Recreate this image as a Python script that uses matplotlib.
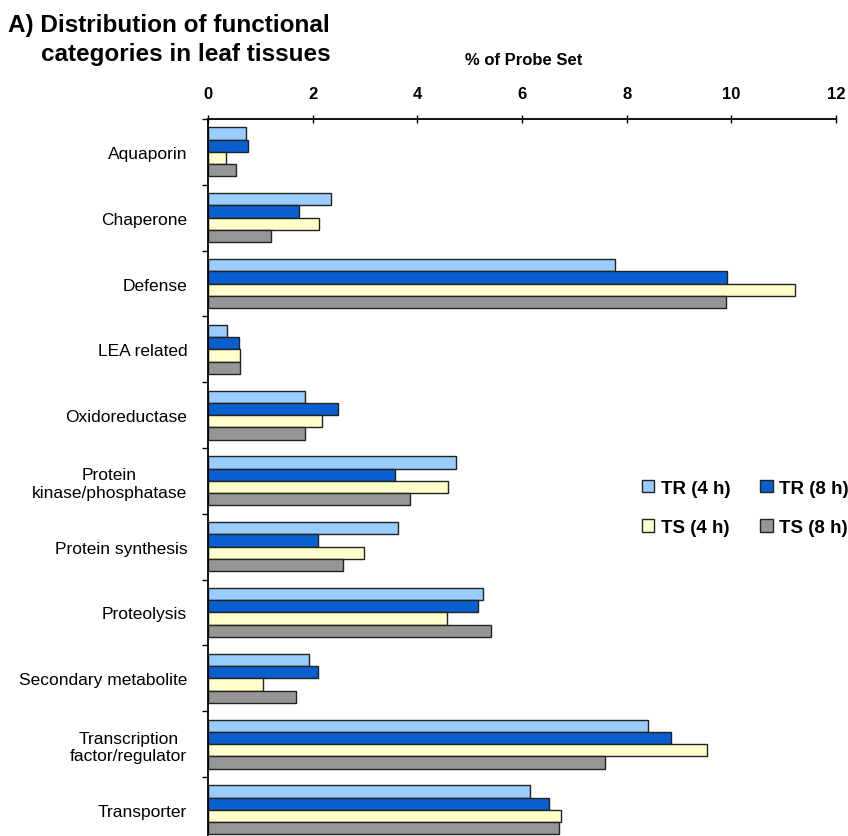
import numpy as np
import matplotlib
matplotlib.use('Agg')
import matplotlib.pyplot as plt
from matplotlib.patches import Patch

# categories, top to bottom
categories = ['Aquaporin', 'Chaperone', 'Defense', 'LEA related', 'Oxidoreductase',
              'Protein\nkinase/phosphatase', 'Protein synthesis', 'Proteolysis',
              'Secondary metabolite', 'Transcription\nfactor/regulator', 'Transporter']

# % of probe set per category
tr_4h = [0.73, 2.35, 7.78, 0.37, 1.85, 4.74, 3.63, 5.25, 1.93, 8.41, 6.16]
tr_8h = [0.77, 1.73, 9.92, 0.59, 2.49, 3.58, 2.10, 5.16, 2.10, 8.85, 6.52]
ts_4h = [0.34, 2.12, 11.22, 0.62, 2.18, 4.58, 2.98, 4.57, 1.06, 9.54, 6.74]
ts_8h = [0.54, 1.20, 9.90, 0.62, 1.85, 3.86, 2.57, 5.41, 1.68, 7.58, 6.71]

series = [('TR (4 h)', tr_4h, '#99ccff'),
          ('TR (8 h)', tr_8h, '#0a5fcf'),
          ('TS (4 h)', ts_4h, '#ffffcc'),
          ('TS (8 h)', ts_8h, '#969696')]

fontName = 'Liberation Sans'
edge = '#222222'
barH = 0.186

fig = plt.figure(figsize=(8.48, 8.37), dpi=100, facecolor='w')
ax = fig.add_axes([0.2453, -0.0081, 0.7406, 0.8647])

y = np.arange(len(categories))
for k, (name, vals, col) in enumerate(series):
    ax.barh(y + (k - 1.5) * barH, vals, height=barH, color=col,
            edgecolor=edge, linewidth=1.0, label=name)

ax.set_xlim(0, 12)
ax.set_ylim(len(categories) - 0.5, -0.5)

ax.xaxis.tick_top()
ax.set_xticks(np.arange(0, 13, 2))
ax.set_xticklabels([str(v) for v in range(0, 13, 2)], fontname=fontName,
                   fontsize=12, fontweight='bold')
ax.tick_params(axis='x', direction='inout', length=6, width=1, pad=10, colors='black')

# group boundaries get the tick marks, labels sit at the group centres
ax.set_yticks(np.arange(len(categories) + 1) - 0.5)
ax.set_yticklabels([])
ax.set_yticks(y, minor=True)
ax.set_yticklabels(categories, minor=True, fontname=fontName, fontsize=12.5,
                   ha='right', multialignment='center')
ax.tick_params(axis='y', which='major', direction='out', length=4, width=1)
ax.tick_params(axis='y', which='minor', length=0, pad=15)

for s in ['right', 'bottom']:
    ax.spines[s].set_visible(False)
for s in ['left', 'top']:
    ax.spines[s].set_color('black')
    ax.spines[s].set_linewidth(1.3)

fig.text(0.617, 0.928, '% of Probe Set', fontname=fontName, fontsize=12,
         fontweight='bold', ha='center', va='center')

fig.text(0.010, 0.969, 'A) Distribution of functional', fontname=fontName,
         fontsize=17.5, fontweight='bold', ha='left', va='center')
fig.text(0.048, 0.935, 'categories in leaf tissues', fontname=fontName,
         fontsize=17.5, fontweight='bold', ha='left', va='center')

handles = [Patch(facecolor=c, edgecolor=edge, linewidth=1) for _, _, c in series]
labels = [n for n, _, _ in series]
order = [0, 2, 1, 3]
fig.legend([handles[i] for i in order], [labels[i] for i in order], ncol=2,
           loc='center', bbox_to_anchor=(0.879, 0.392), frameon=False,
           prop={'family': fontName, 'weight': 'bold', 'size': 13.5},
           handlelength=0.65, handleheight=0.65, handletextpad=0.35,
           columnspacing=1.6, labelspacing=1.2)

fig.savefig('out.png', dpi=100, facecolor='w')
